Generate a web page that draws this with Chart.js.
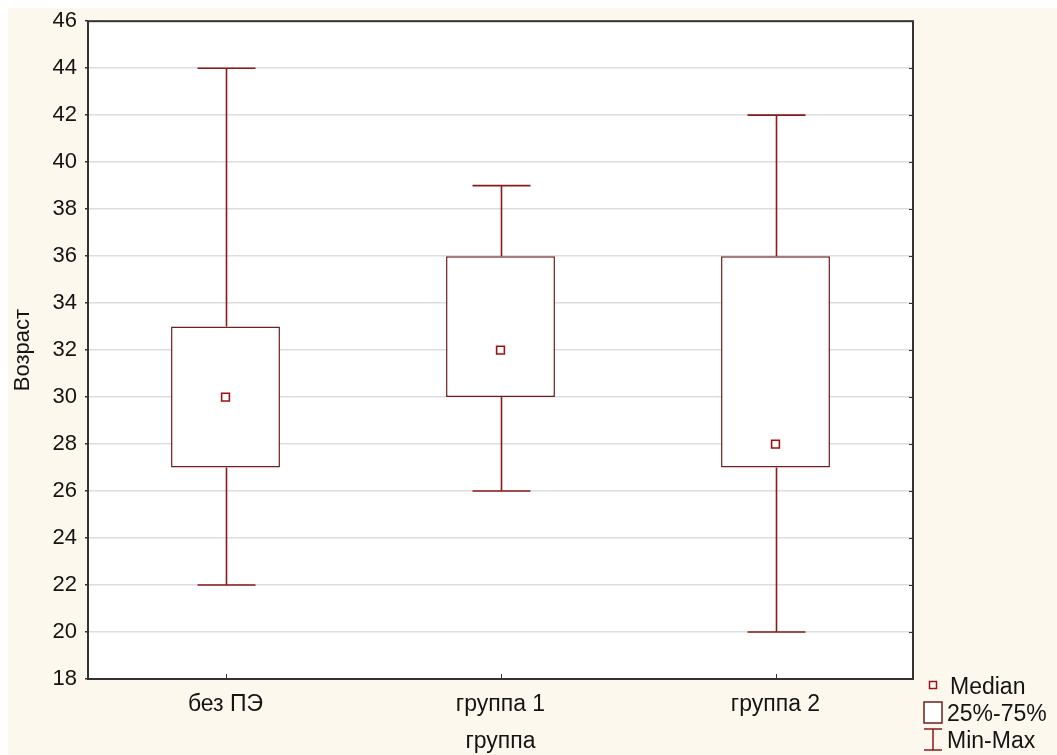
<!DOCTYPE html>
<html>
<head>
<meta charset="utf-8">
<script src="https://cdn.jsdelivr.net/npm/chart.js@4"></script>
<style>
  body { margin: 0; background: #fff; }
  #wrap { width: 1057px; height: 755px; }
</style>
</head>
<body>
<div id="wrap"><canvas id="box-chart"></canvas></div>
<script>
// данные: группы и статистика возраста
const groups = ['без ПЭ', 'группа 1', 'группа 2'];
const minVals = [22, 26, 20];
const q1Vals = [27, 30, 27];
const medianVals = [30, 32, 28];
const q3Vals = [33, 36, 36];
const maxVals = [44, 39, 42];
const yTicks = [18, 20, 22, 24, 26, 28, 30, 32, 34, 36, 38, 40, 42, 44, 46];

const boxColor = '#6e1f1f';
const whiskerColor = '#8b1a1a';
const textColor = '#141414';
const fontName = '"Liberation Sans", Arial, sans-serif';

// фон, усы, рамка и легенда
const boxPlugin = {
  id: 'boxPlugin',
  beforeDraw(chart) {
    const c = chart.ctx;
    c.save();
    c.fillStyle = '#fdf8ee';
    c.fillRect(8, 8, chart.width - 8, chart.height - 8);
    const a = chart.chartArea;
    c.fillStyle = '#ffffff';
    c.fillRect(a.left, a.top, a.right - a.left, a.bottom - a.top);
    c.restore();
  },
  beforeDatasetsDraw(chart) {
    const c = chart.ctx;
    const x = chart.scales.x, y = chart.scales.y;
    c.save();
    c.strokeStyle = whiskerColor;
    c.lineWidth = 1.6;
    groups.forEach((g, i) => {
      const cx = Math.round(x.getPixelForValue(i)) + 0.5;
      const half = 29;
      const yMin = y.getPixelForValue(minVals[i]);
      const yMax = y.getPixelForValue(maxVals[i]);
      const yQ1 = y.getPixelForValue(q1Vals[i]);
      const yQ3 = y.getPixelForValue(q3Vals[i]);
      c.beginPath();
      c.moveTo(cx, yMax); c.lineTo(cx, yQ3);
      c.moveTo(cx, yQ1); c.lineTo(cx, yMin);
      c.moveTo(cx - half, yMax); c.lineTo(cx + half, yMax);
      c.moveTo(cx - half, yMin); c.lineTo(cx + half, yMin);
      c.stroke();
    });
    c.restore();
  },
  afterDraw(chart) {
    const c = chart.ctx;
    const a = chart.chartArea;
    const x = chart.scales.x, y = chart.scales.y;
    c.save();
    c.strokeStyle = '#333';
    c.lineWidth = 2;
    c.strokeRect(a.left, a.top, a.right - a.left, a.bottom - a.top);
    // внутренние засечки
    c.lineWidth = 1;
    c.beginPath();
    yTicks.forEach(v => {
      const py = Math.round(y.getPixelForValue(v)) + 0.5;
      c.moveTo(a.right - 4, py); c.lineTo(a.right, py);
    });
    groups.forEach((g, i) => {
      const px = Math.round(x.getPixelForValue(i)) + 0.5;
      c.moveTo(px, a.bottom); c.lineTo(px, a.bottom - 5);
    });
    c.stroke();

    // легенда
    c.font = '23px ' + fontName;
    c.textBaseline = 'alphabetic';
    c.textAlign = 'left';
    c.lineWidth = 1.5;
    c.fillStyle = '#fff';
    c.strokeStyle = '#a01010';
    c.fillRect(929.5, 681.5, 7, 7);
    c.strokeRect(929.5, 681.5, 7, 7);
    c.strokeStyle = boxColor;
    c.fillRect(924, 702, 18, 21);
    c.strokeRect(924, 702, 18, 21);
    c.strokeStyle = whiskerColor;
    c.beginPath();
    c.moveTo(924, 729); c.lineTo(942, 729);
    c.moveTo(933, 729); c.lineTo(933, 750);
    c.moveTo(924, 750); c.lineTo(942, 750);
    c.stroke();
    c.fillStyle = textColor;
    c.fillText('Median', 950, 694);
    c.fillText('25%-75%', 947, 721);
    c.fillText('Min-Max', 947, 748);
    c.restore();
  }
};

new Chart(document.getElementById('box-chart'), {
  type: 'bar',
  data: {
    labels: groups,
    datasets: [
      {
        label: '25%-75%',
        data: groups.map((g, i) => [q1Vals[i], q3Vals[i]]),
        backgroundColor: '#ffffff',
        borderColor: boxColor,
        borderWidth: 1.5,
        borderSkipped: false,
        categoryPercentage: 1,
        barPercentage: 0.396,
        order: 2
      },
      {
        type: 'line',
        label: 'Median',
        data: medianVals,
        showLine: false,
        pointStyle: 'rect',
        pointRadius: 5.5,
        pointBackgroundColor: '#ffffff',
        pointBorderColor: '#a01010',
        pointBorderWidth: 1.6,
        order: 1
      }
    ]
  },
  plugins: [boxPlugin],
  options: {
    responsive: true,
    maintainAspectRatio: false,
    animation: false,
    layout: { padding: { left: 0, top: 21, right: 144, bottom: 0 } },
    plugins: {
      legend: { display: false },
      tooltip: { enabled: false }
    },
    scales: {
      x: {
        type: 'category',
        offset: true,
        grid: { display: false },
        border: { display: false },
        ticks: { color: textColor, font: { family: fontName, size: 23 }, padding: 4 },
        title: { display: true, text: 'группа', color: textColor, font: { family: fontName, size: 23 }, padding: { top: 6, bottom: 0 } },
        afterFit(scale) { scale.height = 76; }
      },
      y: {
        min: 18,
        max: 46,
        afterBuildTicks(scale) { scale.ticks = yTicks.map(v => ({ value: v })); },
        grid: { color: '#dddddd', lineWidth: 1.5, tickLength: 3, tickColor: '#333' },
        border: { display: false },
        ticks: { color: textColor, font: { family: fontName, size: 22 }, padding: 8 },
        title: { display: true, text: 'Возраст', color: textColor, font: { family: fontName, size: 22 }, padding: { top: 10, bottom: 0 } },
        afterFit(scale) { scale.width = 88; }
      }
    }
  }
});
</script>
</body>
</html>
